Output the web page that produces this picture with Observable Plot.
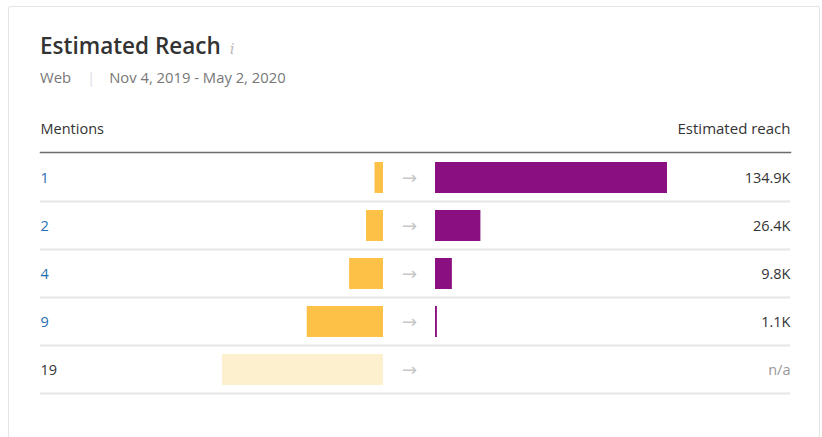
<!DOCTYPE html>
<html>
<head>
<meta charset="utf-8">
<script src="https://cdn.jsdelivr.net/npm/d3@7"></script>
<script src="https://cdn.jsdelivr.net/npm/@observablehq/plot@0.6"></script>
<style>
  html, body { margin: 0; padding: 0; background: #fff; }
  body { width: 822px; height: 437px; overflow: hidden; position: relative; font-family: "Open Sans", sans-serif; }
  #card { position: absolute; left: 8px; top: 6px; width: 812px; height: 470px; border: 1px solid #e4e4e4; box-sizing: border-box; border-radius: 2px; }
  #title { position: absolute; left: 40px; top: 35px; font-size: 22.5px; font-weight: 600; color: #333; line-height: 1; white-space: nowrap; }
  #title .info { font-family: "DejaVu Serif", serif; font-style: italic; font-weight: 400; font-size: 15px; color: #bbb; margin-left: 9px; }
  #sub { position: absolute; left: 40px; top: 70px; font-size: 14.8px; color: #777; line-height: 1; white-space: nowrap; }
  #sub .sep { color: #ddd; margin: 0 14px 0 16px; }
  #chart { position: absolute; left: 0; top: 100px; width: 822px; height: 337px; }
  #chart svg { position: absolute; left: 0; top: 0; overflow: visible; }
</style>
</head>
<body>
<div id="card"></div>
<div id="title">Estimated Reach<span class="info">i</span></div>
<div id="sub">Web<span class="sep">|</span>Nov 4, 2019 - May 2, 2020</div>
<div id="chart"></div>
<script>
// ---- data ----
const mentionLabels = ["1", "2", "4", "9", "19"];
const mentionCounts = [1, 2, 4, 9, 19];
const reachValues = [134900, 26400, 9800, 1100, null];
const reachLabels = ["134.9K", "26.4K", "9.8K", "1.1K", "n/a"];
const headerLeft = "Mentions";
const headerRight = "Estimated reach";

const rows = mentionLabels.map((m, i) => ({
  mention: m,
  count: mentionCounts[i],
  reach: reachValues[i],
  label: reachLabels[i],
  hasReach: reachValues[i] != null
}));

const W = 822, H = 337;
const common = {
  width: W, height: H,
  marginTop: 52, marginBottom: 44, marginLeft: 40, marginRight: 32,
  style: { background: "transparent", fontFamily: "Open Sans, sans-serif" },
  y: { type: "band", domain: mentionLabels, paddingInner: 0.35, paddingOuter: 0.175, align: 0.56, axis: null }
};
const step = (H - 52 - 44) / mentionLabels.length;

// base layer: rules, labels, purple reach bars
const base = Plot.plot({
  ...common,
  x: { domain: [0, d3.max(reachValues)], range: [435, 667], axis: null },
  marks: [
    Plot.ruleY(rows, { y: "mention", dy: step / 2 - 0.5, stroke: "#e6e6e6", strokeWidth: 2 }),
    Plot.frame({ anchor: "top", stroke: "#6b6b6b", strokeWidth: 1.5 }),
    Plot.text([headerLeft], { text: d => d, frameAnchor: "top-left", textAnchor: "start", dy: -29, fontSize: 14.5, fill: "#333" }),
    Plot.text([headerRight], { text: d => d, frameAnchor: "top-right", textAnchor: "end", dy: -29, fontSize: 15, fill: "#333" }),
    Plot.text(rows, { y: "mention", text: "mention", frameAnchor: "left", textAnchor: "start", fontSize: 14.5, fill: d => d.hasReach ? "#1f6fb2" : "#333" }),
    Plot.text(rows, { y: "mention", text: "label", frameAnchor: "right", textAnchor: "end", fontSize: 14.5, fill: d => d.hasReach ? "#333" : "#999" }),
    Plot.barX(rows.filter(d => d.hasReach), { x: "reach", y: "mention", fill: "#8a0f80" }),
    Plot.text(rows, { x: 0, y: "mention", text: () => "\u2192", dx: -26, textAnchor: "middle", fontSize: 18, fill: "#c8c8c8", fontFamily: "DejaVu Sans" })
  ]
});

// overlay layer: yellow mention bars with their own x scale
const overlay = Plot.plot({
  ...common,
  x: { domain: [0, d3.max(mentionCounts)], range: [383, 222], axis: null },
  marks: [
    Plot.barX(rows, { x: "count", y: "mention", fill: d => d.hasReach ? "#fdc147" : "#fdf0cf" })
  ]
});

const chart = document.getElementById("chart");
chart.appendChild(base);
chart.appendChild(overlay);
</script>
</body>
</html>
